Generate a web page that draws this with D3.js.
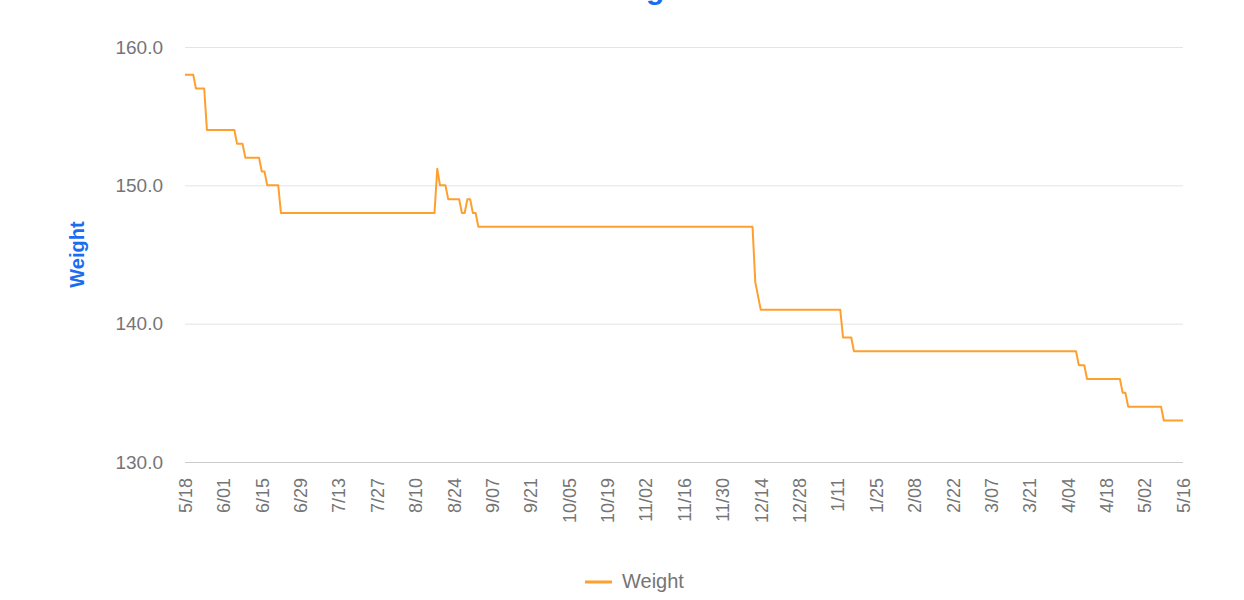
<!DOCTYPE html>
<html>
<head>
<meta charset="utf-8">
<script src="https://cdn.jsdelivr.net/npm/d3@7/dist/d3.min.js"></script>
<style>
  html, body { margin: 0; padding: 0; background: #fff; }
  svg { display: block; font-family: "Liberation Sans", Arial, sans-serif; }
</style>
</head>
<body>
<svg id="chart" width="1244" height="600"></svg>
<script>
// ---- data ----
const titleText = "Weight";
const seriesName = "Weight";
const axisTitle = "Weight";
const dates = [
  "2019-05-18","2019-05-21","2019-05-22","2019-05-25","2019-05-26","2019-06-05","2019-06-06",
  "2019-06-08","2019-06-09","2019-06-14","2019-06-15","2019-06-16","2019-06-17","2019-06-21",
  "2019-06-22","2019-08-17","2019-08-18","2019-08-19","2019-08-21","2019-08-22","2019-08-26",
  "2019-08-27","2019-08-28","2019-08-29","2019-08-30","2019-08-31","2019-09-01","2019-09-02",
  "2019-12-11","2019-12-12","2019-12-14","2020-01-12","2020-01-13","2020-01-16","2020-01-17",
  "2020-04-07","2020-04-08","2020-04-10","2020-04-11","2020-04-23","2020-04-24","2020-04-25",
  "2020-04-26","2020-05-08","2020-05-09","2020-05-16"
];
const weights = [
  158, 158, 157, 157, 154, 154, 153,
  153, 152, 152, 151, 151, 150, 150,
  148, 148, 151.2, 150, 150, 149, 149,
  148, 148, 149, 149, 148, 148, 147,
  147, 143, 141, 141, 139, 139, 138,
  138, 137, 137, 136, 136, 135, 135,
  134, 134, 133, 133
];
const xTickDates = [
  "2019-05-18","2019-06-01","2019-06-15","2019-06-29","2019-07-13","2019-07-27","2019-08-10",
  "2019-08-24","2019-09-07","2019-09-21","2019-10-05","2019-10-19","2019-11-02","2019-11-16",
  "2019-11-30","2019-12-14","2019-12-28","2020-01-11","2020-01-25","2020-02-08","2020-02-22",
  "2020-03-07","2020-03-21","2020-04-04","2020-04-18","2020-05-02","2020-05-16"
];
const xTickLabels = [
  "5/18","6/01","6/15","6/29","7/13","7/27","8/10","8/24","9/07","9/21","10/05","10/19",
  "11/02","11/16","11/30","12/14","12/28","1/11","1/25","2/08","2/22","3/07","3/21","4/04",
  "4/18","5/02","5/16"
];
const yTicks = [130, 140, 150, 160];
const yTickLabels = ["130.0", "140.0", "150.0", "160.0"];

// ---- layout ----
const W = 1244, H = 600;
const m = { left: 185, right: 1183, top: 47, bottom: 462 };
const lineColor = "#ff9f2e";
const blue = "#1a6cf0";
const grey = "#757575";

const parse = d3.utcParse("%Y-%m-%d");
const data = dates.map((d, i) => ({ date: parse(d), value: weights[i] }));

const x = d3.scaleUtc()
  .domain([parse(xTickDates[0]), parse(xTickDates[xTickDates.length - 1])])
  .range([m.left, m.right]);
const y = d3.scaleLinear().domain([130, 160]).range([m.bottom, m.top]);

const svg = d3.select("#chart");

// title (mostly cut off at the top, as in the reference)
svg.append("text")
  .attr("x", 643).attr("y", -1)
  .attr("text-anchor", "middle")
  .attr("font-size", 30).attr("font-weight", "bold")
  .attr("fill", blue)
  .text(titleText);

// gridlines + y labels
const yAxis = d3.axisLeft(y)
  .tickValues(yTicks)
  .tickSize(-(m.right - m.left))
  .tickPadding(22)
  .tickFormat((d, i) => yTickLabels[i]);
const gy = svg.append("g").attr("transform", `translate(${m.left},0)`).call(yAxis);
gy.select(".domain").remove();
gy.selectAll(".tick line").attr("stroke", "#e4e4e4").attr("stroke-width", 1)
  .filter(d => d === 130).attr("stroke", "#cccccc");
gy.selectAll(".tick text").attr("fill", grey).attr("font-size", 19)
  .attr("font-family", "'Liberation Sans', Arial, sans-serif");

// x axis labels
const xAxis = d3.axisBottom(x)
  .tickValues(xTickDates.map(parse))
  .tickSize(0)
  .tickFormat((d, i) => xTickLabels[i]);
const gx = svg.append("g").attr("transform", `translate(0,${m.bottom})`).call(xAxis);
gx.select(".domain").remove();
gx.selectAll(".tick text")
  .attr("fill", grey).attr("font-size", 18)
  .attr("font-family", "'Liberation Sans', Arial, sans-serif")
  .attr("text-anchor", "end")
  .attr("transform", "rotate(-90)")
  .attr("x", -16).attr("y", 0).attr("dy", "0.35em");

// line
const line = d3.line().x(d => x(d.date)).y(d => y(d.value));
svg.append("path")
  .datum(data)
  .attr("fill", "none")
  .attr("stroke", lineColor)
  .attr("stroke-width", 2)
  .attr("stroke-linejoin", "round")
  .attr("d", line);

// axis title
svg.append("text")
  .attr("transform", `translate(84,${(m.top + m.bottom) / 2}) rotate(-90)`)
  .attr("text-anchor", "middle")
  .attr("font-size", 20).attr("font-weight", "bold")
  .attr("fill", blue)
  .text(axisTitle);

// legend
const lg = svg.append("g");
lg.append("line")
  .attr("x1", 585).attr("x2", 612).attr("y1", 582).attr("y2", 582)
  .attr("stroke", lineColor).attr("stroke-width", 3);
lg.append("text")
  .attr("x", 622).attr("y", 581).attr("dy", "0.35em")
  .attr("fill", grey).attr("font-size", 20)
  .text(seriesName);
</script>
</body>
</html>
